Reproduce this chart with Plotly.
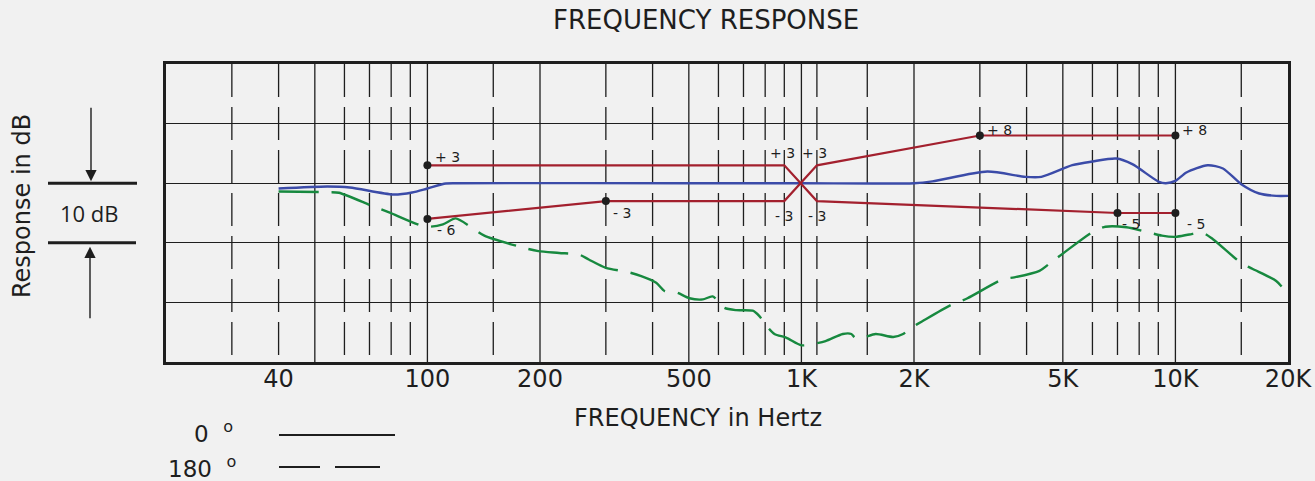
import plotly.graph_objects as go
import math

# ---------------- data ----------------
# 0 degree (on-axis) response, blue
blue_freq = [40, 54, 62, 81, 91, 100, 112, 120, 500, 1000, 2000, 2240, 3140, 3970, 4380, 5300, 6000,
             6950, 7670, 9040, 9430, 10000, 10700, 12200, 13400, 15000, 16750, 18600, 20000]
blue_db = [-0.9, -0.55, -0.72, -1.9, -1.56, -0.89, -0.05, 0, 0, 0, 0, 0.3, 1.96, 1.06, 1.06, 3.02, 3.64,
           4.14, 3.19, 0.22, 0.0, 0.39, 1.8, 3.02, 2.47, -0.17, -1.73, -2.13, -2.13]

# 180 degree (rear) response, green dashed
green_freq = [40, 54, 58, 71, 79, 99, 110, 119, 131, 142, 180, 198, 225, 255, 270, 300, 343, 373, 409,
              431, 462, 502, 545, 579, 622, 669, 741, 772, 801, 847, 910, 1000, 1070, 1160, 1290, 1360,
              1390, 1460, 1580, 1760, 1870, 1960, 2100, 2500, 2780, 3460, 3710, 4330, 4650, 5050, 6000,
              6500, 7400, 8400, 9200, 10000, 10900, 11800, 12600, 15000, 16100, 18600, 19800]
green_db = [-1.4, -1.5, -1.6, -3.8, -4.9, -7.3, -6.9, -5.9, -7.4, -8.8, -10.8, -11.4, -11.7, -12.0, -12.8,
            -14.2, -14.9, -15.6, -16.7, -18.1, -18.3, -19.3, -19.5, -19.0, -20.9, -21.3, -21.4, -22.3,
            -23.7, -25.3, -25.9, -27.2, -27.0, -26.5, -25.3, -25.3, -25.9, -25.9, -25.3, -25.8, -25.3,
            -24.3, -23.2, -20.5, -19.3, -16.1, -15.8, -14.7, -13.3, -11.6, -8.2, -7.3, -7.4, -8.2, -8.8,
            -9.0, -8.6, -8.3, -9.4, -13.4, -14.4, -16.4, -18.3]

# tolerance envelope (red)
env_a_freq = [100, 900, 1100, 7000, 10000]
env_a_db = [3, 3, -3, -5, -5]
env_b_freq = [100, 300, 900, 1100, 3000, 10000]
env_b_db = [-6, -3, -3, 3, 8, 8]

marker_freq = [100, 100, 300, 3000, 10000, 7000, 10000]
marker_db = [3, -6, -3, 8, 8, -5, -5]

label_freq = [100, 100, 300, 900, 1100, 900, 1100, 3000, 10000, 7000, 10000]
label_db = [3, -6, -3, 3, 3, -3, -3, 8, 8, -5, -5]
label_text = ["+ 3", "- 6", "- 3", "+ 3", "+ 3", "- 3", "- 3", "+ 8", "+ 8", "- 5", "- 5"]

tick_vals = [40, 100, 200, 500, 1000, 2000, 5000, 10000, 20000]
tick_text = ["40", "100", "200", "500", "1K", "2K", "5K", "10K", "20K"]

grid_solid = [50, 100, 200, 500, 1000, 2000, 5000, 10000]
grid_dashed = [30, 40, 60, 70, 80, 90, 150, 300, 400, 600, 700, 800, 900, 1100, 1500,
               3000, 4000, 6000, 7000, 8000, 9000, 15000]

X_MIN, X_MAX = 20, 20000
Y_MIN, Y_MAX = -30, 20

# ---------------- styles ----------------
BG = "#F1F1F1"
INK = "#1E1E1E"
RED = "#A3202E"
BLUE = "#3B4BA8"
GREEN = "#17893F"
F_WIDE = "DejaVu Sans, Verdana, sans-serif"

W, H = 1315, 481
L, R, T, B = 166, 27, 64, 119
PW, PH = W - L - R, H - T - B


def px_x(p):
    return (p - L) / PW


def px_y(p):
    return (H - B - p) / PH


def vlines(freqs):
    xs, ys = [], []
    for f in freqs:
        xs += [f, f, None]
        ys += [Y_MAX, Y_MIN, None]
    return xs, ys


fig = go.Figure()

xs, ys = vlines(grid_solid)
fig.add_trace(go.Scatter(x=xs, y=ys, mode="lines", line=dict(color=INK, width=1.3),
                         hoverinfo="skip", showlegend=False))
xs, ys = vlines(grid_dashed)
fig.add_trace(go.Scatter(x=xs, y=ys, mode="lines", line=dict(color=INK, width=1.3, dash="33px,10px"),
                         hoverinfo="skip", showlegend=False))

fig.add_trace(go.Scatter(x=green_freq, y=green_db, mode="lines",
                         line=dict(color=GREEN, width=2.4, dash="40px,13px", shape="spline", smoothing=0.7),
                         showlegend=False))
fig.add_trace(go.Scatter(x=blue_freq, y=blue_db, mode="lines",
                         line=dict(color=BLUE, width=2.4, shape="spline", smoothing=0.7),
                         showlegend=False))
fig.add_trace(go.Scatter(x=env_a_freq, y=env_a_db, mode="lines", line=dict(color=RED, width=2.2),
                         showlegend=False))
fig.add_trace(go.Scatter(x=env_b_freq, y=env_b_db, mode="lines", line=dict(color=RED, width=2.2),
                         showlegend=False))
fig.add_trace(go.Scatter(x=marker_freq, y=marker_db, mode="markers",
                         marker=dict(color=INK, size=8), showlegend=False))

# label offsets (xanchor, xshift, yshift)
label_style = [("left", 6, 8), ("left", 8, -11), ("left", 5, -12), ("center", -2, 12), ("center", -2, 12),
               ("center", 0, -15), ("center", 0, -15), ("left", 5, 6), ("left", 5, 6),
               ("left", 3, -11), ("left", 10, -11)]
for f, d, t, (xa, xsft, ysft) in zip(label_freq, label_db, label_text, label_style):
    fig.add_annotation(x=math.log10(f), y=d, xref="x", yref="y", text=t, showarrow=False,
                       xanchor=xa, yanchor="middle", xshift=xsft, yshift=ysft,
                       font=dict(family=F_WIDE, size=14, color=INK))

# titles
fig.add_annotation(x=px_x(706), y=px_y(20), xref="paper", yref="paper", text="FREQUENCY RESPONSE",
                   showarrow=False, xanchor="center", yanchor="middle",
                   font=dict(family=F_WIDE, size=26, color=INK))
fig.add_annotation(x=px_x(698), y=px_y(418), xref="paper", yref="paper", text="FREQUENCY in Hertz",
                   showarrow=False, xanchor="center", yanchor="middle",
                   font=dict(family=F_WIDE, size=24, color=INK))
fig.add_annotation(x=px_x(22), y=px_y(206), xref="paper", yref="paper", text="Response in dB",
                   showarrow=False, xanchor="center", yanchor="middle", textangle=-90,
                   font=dict(family=F_WIDE, size=24, color=INK))

# 10 dB scale bracket
fig.add_shape(type="line", xref="paper", yref="y", x0=px_x(48), x1=px_x(137), y0=0, y1=0,
              line=dict(color=INK, width=3))
fig.add_shape(type="line", xref="paper", yref="y", x0=px_x(48), x1=px_x(136), y0=-10, y1=-10,
              line=dict(color=INK, width=3))
fig.add_annotation(x=px_x(89), y=-5, xref="paper", yref="y", text="10 dB", showarrow=False,
                   xanchor="center", yanchor="middle", font=dict(family="Open Sans", size=22, color=INK))
fig.add_annotation(x=px_x(91), y=0, xref="paper", yref="y", text="", showarrow=True,
                   ax=0, ay=-77, arrowhead=2, arrowsize=1.6, arrowwidth=1.4, arrowcolor=INK, standoff=2)
fig.add_annotation(x=px_x(90), y=-10, xref="paper", yref="y", text="", showarrow=True,
                   ax=0, ay=77, arrowhead=2, arrowsize=1.6, arrowwidth=1.4, arrowcolor=INK, standoff=4)

# legend
fig.add_annotation(x=px_x(235), y=px_y(432), xref="paper", yref="paper", text="0  <sup>o</sup>",
                   showarrow=False, xanchor="right", yanchor="middle",
                   font=dict(family=F_WIDE, size=23, color=INK))
fig.add_annotation(x=px_x(238), y=px_y(467), xref="paper", yref="paper", text="180  <sup>o</sup>",
                   showarrow=False, xanchor="right", yanchor="middle",
                   font=dict(family=F_WIDE, size=23, color=INK))
fig.add_shape(type="line", xref="paper", yref="paper", x0=px_x(279), x1=px_x(395), y0=px_y(435),
              y1=px_y(435), line=dict(color=INK, width=2))
fig.add_shape(type="line", xref="paper", yref="paper", x0=px_x(279), x1=px_x(320), y0=px_y(467),
              y1=px_y(467), line=dict(color=INK, width=2))
fig.add_shape(type="line", xref="paper", yref="paper", x0=px_x(335), x1=px_x(380), y0=px_y(467),
              y1=px_y(467), line=dict(color=INK, width=2))

fig.update_layout(
    width=W, height=H,
    margin=dict(l=L, r=R, t=T, b=B, pad=0, autoexpand=False),
    paper_bgcolor=BG, plot_bgcolor=BG,
    showlegend=False,
    xaxis=dict(type="log", range=[math.log10(X_MIN), math.log10(X_MAX)], showgrid=False, zeroline=False,
               tickmode="array", tickvals=tick_vals, ticktext=tick_text, ticks="",
               tickfont=dict(family=F_WIDE, size=24, color=INK), ticklabelstandoff=-7,
               automargin=False,
               showline=True, mirror=True, linecolor=INK, linewidth=3),
    yaxis=dict(range=[Y_MIN, Y_MAX], dtick=10, tick0=0, showgrid=True, gridcolor=INK, gridwidth=1.3,
               zeroline=False, showticklabels=False, ticks="", automargin=False,
               showline=True, mirror=True, linecolor=INK, linewidth=3),
)

fig.write_html(
    "out.html",
    config={"displayModeBar": False},
    post_script="document.body.style.margin='0';document.body.style.padding='0';"
                "document.body.style.background='#F1F1F1';document.body.style.overflow='hidden';",
)
